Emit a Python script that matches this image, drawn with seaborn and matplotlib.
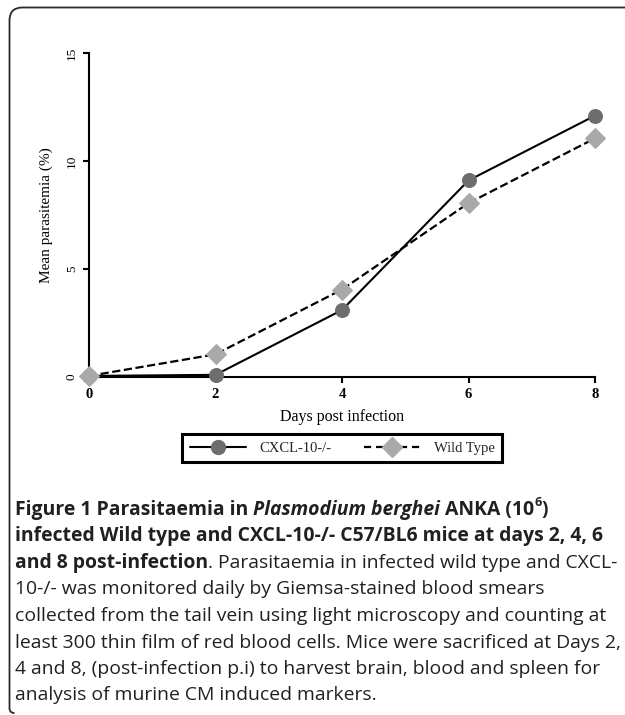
import matplotlib
matplotlib.use("Agg")
import matplotlib.pyplot as plt
import seaborn as sns
from matplotlib.lines import Line2D
from matplotlib.path import Path
from matplotlib.patches import PathPatch

# Mean parasitaemia (%) by day post infection
days = [0, 2, 4, 6, 8]
cxcl10_ko = [0.05, 0.1, 3.1, 9.1, 12.1]
wild_type = [0.05, 1.05, 4.05, 8.05, 11.05]
series_names = ["CXCL-10-/-", "Wild Type"]
x_ticks = [0, 2, 4, 6, 8]
y_ticks = [0, 5, 10, 15]

W, H = 625, 715
sns.set_theme(style="white")
plt.rcParams["font.family"] = ["Liberation Serif", "DejaVu Serif"]

fig = plt.figure(figsize=(W / 100, H / 100), dpi=100)
fig.patch.set_facecolor("white")


def fx(px):
    return px / W


def fy(py):
    return 1 - py / H


ax = fig.add_axes([fx(89), fy(377), fx(595) - fx(89), fy(53) - fy(377)])
ax.set_facecolor("white")

ko_style = dict(color="black", linewidth=1.5, marker="o", markersize=10,
                markerfacecolor="#6d6d6d", markeredgecolor="#6d6d6d")
wt_style = dict(color="black", linewidth=1.6, linestyle="--",
                dashes=(3.2, 2.2), marker="D", markersize=10,
                markerfacecolor="#a9a9a9", markeredgecolor="#a9a9a9")

sns.lineplot(x=days, y=cxcl10_ko, ax=ax, clip_on=False, zorder=3, **ko_style)
sns.lineplot(x=days, y=wild_type, ax=ax, clip_on=False, zorder=3, **wt_style)

ax.set_xlim(0, 8)
ax.set_ylim(0, 15)
ax.set_xticks(x_ticks)
ax.set_yticks(y_ticks)
ax.set_xticklabels([str(t) for t in x_ticks], fontsize=10.5, fontweight="bold")
ax.set_yticklabels([str(t) for t in y_ticks], fontsize=9.5, rotation=90,
                   va="center")
ax.grid(False)
for side in ("top", "right"):
    ax.spines[side].set_visible(False)
for side in ("left", "bottom"):
    ax.spines[side].set_color("black")
    ax.spines[side].set_linewidth(1.5)
ax.tick_params(axis="both", direction="out", length=4, width=1.5,
               color="black", labelcolor="black", left=True, bottom=True)
ax.tick_params(axis="x", pad=4)
ax.tick_params(axis="y", pad=4)

ax.set_xlabel("Days post infection", fontsize=11.5, labelpad=6, color="black")
ax.set_ylabel("Mean parasitemia (%)", fontsize=11, labelpad=9, color="black")

handles = [Line2D([], [], **ko_style), Line2D([], [], **wt_style)]
leg = fig.legend(handles, series_names, loc="center",
                 bbox_to_anchor=(fx(342), fy(448)), ncol=2, frameon=True,
                 fancybox=False, framealpha=1, edgecolor="black",
                 fontsize=10.5, handlelength=3.9, handletextpad=0.9,
                 columnspacing=2.2, borderpad=0.5)
leg.get_frame().set_linewidth(2.2)

# Rounded frame around figure and caption
r1, r2 = 13, 5
xl, yt, yb = 9.5, 7.5, 713
verts = [(W, yt), (xl + r1, yt), (xl, yt), (xl, yt + r1),
         (xl, yb - r2), (xl, yb), (xl + r2, yb)]
codes = [Path.MOVETO, Path.LINETO, Path.CURVE3, Path.CURVE3,
         Path.LINETO, Path.CURVE3, Path.CURVE3]
frame = Path([(fx(a), fy(b)) for a, b in verts], codes)
fig.add_artist(PathPatch(frame, transform=fig.transFigure, fill=False,
                         edgecolor="#2a2a2a", linewidth=1.3))

# Caption, set as runs of mixed weight and style
cap_font = ["Open Sans", "DejaVu Sans"]
cap_color = "#231f20"
B, BI, R, SUP = "bold", "bolditalic", "regular", "sup"
caption = [
    [(B, "Figure 1 Parasitaemia in "), (BI, "Plasmodium berghei"),
     (B, " ANKA (10"), (SUP, "6"), (B, ")")],
    [(B, "infected Wild type and CXCL-10-/- C57/BL6 mice at days 2, 4, 6")],
    [(B, "and 8 post-infection"),
     (R, ". Parasitaemia in infected wild type and CXCL-")],
    [(R, "10-/- was monitored daily by Giemsa-stained blood smears")],
    [(R, "collected from the tail vein using light microscopy and counting at")],
    [(R, "least 300 thin film of red blood cells. Mice were sacrificed at Days 2,")],
    [(R, "4 and 8, (post-infection p.i) to harvest brain, blood and spleen for")],
    [(R, "analysis of murine CM induced markers.")],
]

renderer = fig.canvas.get_renderer()

# size the caption so its widest line stays inside the right edge
x0, x_right = 15, 618
probe_w = 0
for s in (caption[4][0][1], caption[5][0][1]):
    probe = fig.text(0, 0, s, family=cap_font, fontsize=12)
    probe_w = max(probe_w, probe.get_window_extent(renderer).width)
    probe.remove()
cap_size = 12 * (x_right - x0) / probe_w

base0, step = 515, 26.5
for i, line in enumerate(caption):
    x = x0
    base = base0 + i * step
    for kind, s in line:
        kw = dict(family=cap_font, color=cap_color, va="baseline", ha="left")
        yy = base
        if kind == B:
            kw.update(fontweight="bold", fontsize=cap_size)
        elif kind == BI:
            kw.update(fontweight="bold", fontstyle="italic", fontsize=cap_size)
        elif kind == SUP:
            kw.update(fontweight="bold", fontsize=cap_size * 0.65)
            yy = base - 9
        else:
            kw.update(fontweight="normal", fontsize=cap_size)
        t = fig.text(fx(x), fy(yy), s, **kw)
        x += t.get_window_extent(renderer).width

fig.savefig("out.png", dpi=100, facecolor="white")
